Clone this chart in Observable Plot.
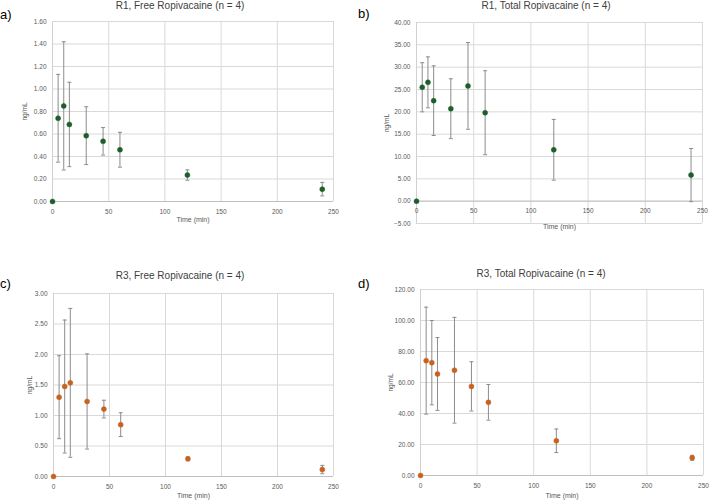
<!DOCTYPE html>
<html>
<head>
<meta charset="utf-8">
<script src="https://cdn.jsdelivr.net/npm/d3@7"></script>
<script src="https://cdn.jsdelivr.net/npm/@observablehq/plot@0.6"></script>
<style>
  body { margin: 0; background: #fff; font-family: "Liberation Sans", Arial, sans-serif; }
  #page { position: relative; width: 709px; height: 502px; overflow: hidden; background: #fff; }
  .panel { position: absolute; }
  .title { position: absolute; font-size: 10px; color: #404040; white-space: nowrap; transform: translateX(-50%); }
  .tag { position: absolute; font-size: 13px; color: #000; }
</style>
</head>
<body>
<div id="page"></div>
<script>
// ---- data ----
const times = [0, 5, 10, 15, 30, 45, 60, 120, 240];

const r1FreeMean = [0, 0.74, 0.85, 0.685, 0.585, 0.535, 0.46, 0.235, 0.11];
const r1FreeSD   = [0, 0.39, 0.57, 0.375, 0.257, 0.122, 0.155, 0.046, 0.06];

const r1TotalMean = [0, 25.5, 26.6, 22.5, 20.7, 25.8, 19.8, 11.5, 5.85];
const r1TotalSD   = [0, 5.5, 5.7, 7.8, 6.7, 9.7, 9.4, 6.8, 5.95];

const r3FreeMean = [0, 1.30, 1.475, 1.535, 1.23, 1.105, 0.85, 0.289, 0.114];
const r3FreeSD   = [0, 0.68, 1.09, 1.22, 0.78, 0.145, 0.195, 0.03, 0.068];

const r3TotalMean = [0, 74.1, 72.8, 65.5, 67.9, 57.5, 47.2, 22.4, 11.4];
const r3TotalSD   = [0, 34.5, 27.2, 23.5, 34.1, 15.9, 11.5, 7.6, 1.6];

const xTicks = [0, 50, 100, 150, 200, 250];
const yTicksA = [0, 0.2, 0.4, 0.6, 0.8, 1.0, 1.2, 1.4, 1.6];
const yTicksB = [-5, 0, 5, 10, 15, 20, 25, 30, 35, 40];
const yTicksC = [0, 0.5, 1.0, 1.5, 2.0, 2.5, 3.0];
const yTicksD = [0, 20, 40, 60, 80, 100, 120];

const titles = [
  "R1, Free Ropivacaine (n = 4)",
  "R1, Total Ropivacaine (n = 4)",
  "R3, Free Ropivacaine (n = 4)",
  "R3, Total Ropivacaine (n = 4)"
];
const tags = ["a)", "b)", "c)", "d)"];

const green = "#1e5e2b";
const orange = "#c7631f";

const capSymbol = {
  draw(ctx) { ctx.moveTo(-2, 0); ctx.lineTo(2, 0); }
};

function panel(mean, sd, yTicks, color, box) {
  const data = times.map((t, i) => ({t, m: mean[i], lo: mean[i] - sd[i], hi: mean[i] + sd[i], sd: sd[i]}));
  const bars = data.filter(d => d.sd > 0);
  return Plot.plot({
    width: box.W, height: box.H,
    marginLeft: box.mL, marginRight: box.mR, marginTop: box.mT, marginBottom: box.mB,
    style: {fontFamily: "Liberation Sans, Arial, sans-serif", background: "transparent", overflow: "visible"},
    x: {domain: [0, 250], axis: null},
    y: {domain: [yTicks[0], yTicks[yTicks.length - 1]]},
    marks: [
      Plot.gridY(yTicks, {stroke: "#d9d9d9", strokeOpacity: 1}),
      Plot.gridX(xTicks, {stroke: "#d9d9d9", strokeOpacity: 1}),
      Plot.ruleY([0], {stroke: "#bfbfbf"}),
      Plot.ruleX([0], {stroke: "#d0d0d0"}),
      Plot.axisY(yTicks, {tickSize: 0, tickPadding: 6, tickFormat: d3.format(".2f"), fontSize: 6.5, color: "#595959",
        label: "ng/mL", labelAnchor: "center", labelArrow: "none", labelOffset: box.lblOff}),
      Plot.text(xTicks, {x: d => d, y: 0, dy: 10, text: d => String(d), fontSize: 6.5, fill: "#595959"}),
      Plot.text(["Time (min)"], {frameAnchor: "bottom", dy: box.tDy, fontSize: 7, fill: "#595959"}),
      Plot.ruleX(bars, {x: "t", y1: "lo", y2: "hi", stroke: "#8c8c8c", strokeWidth: 1}),
      Plot.dot(bars, {x: "t", y: "hi", symbol: capSymbol, stroke: "#8c8c8c", fill: "none", strokeWidth: 1}),
      Plot.dot(bars, {x: "t", y: "lo", symbol: capSymbol, stroke: "#8c8c8c", fill: "none", strokeWidth: 1}),
      Plot.dot(data, {x: "t", y: "m", r: 2.5, fill: color, stroke: color, strokeWidth: 0.5})
    ]
  });
}

const boxes = [
  {L: 0,   T: 0,   W: 354, H: 240, mL: 52, mR: 21, mT: 21, mB: 39, lblOff: 30, tDy: 20, tx: 180, ty: 0,   gx: 0,   gy: 7},
  {L: 354, T: 0,   W: 355, H: 240, mL: 62, mR: 7,  mT: 22, mB: 17, lblOff: 32, tDy: 5,  tx: 546, ty: 0,   gx: 358, gy: 6},
  {L: 0,   T: 250, W: 354, H: 252, mL: 53, mR: 21, mT: 43, mB: 26, lblOff: 26, tDy: 21, tx: 180, ty: 270, gx: 0,   gy: 276},
  {L: 354, T: 250, W: 355, H: 252, mL: 66, mR: 6,  mT: 39, mB: 27, lblOff: 32, tDy: 22, tx: 541, ty: 268, gx: 358, gy: 276}
];
const series = [
  [r1FreeMean, r1FreeSD, yTicksA, green],
  [r1TotalMean, r1TotalSD, yTicksB, green],
  [r3FreeMean, r3FreeSD, yTicksC, orange],
  [r3TotalMean, r3TotalSD, yTicksD, orange]
];

const page = document.getElementById("page");
series.forEach(([m, s, yt, c], i) => {
  const b = boxes[i];
  const wrap = document.createElement("div");
  wrap.className = "panel";
  wrap.style.left = b.L + "px";
  wrap.style.top = b.T + "px";
  wrap.appendChild(panel(m, s, yt, c, b));
  page.appendChild(wrap);

  const t = document.createElement("div");
  t.className = "title";
  t.style.left = b.tx + "px";
  t.style.top = b.ty + "px";
  t.textContent = titles[i];
  page.appendChild(t);

  const g = document.createElement("div");
  g.className = "tag";
  g.style.left = b.gx + "px";
  g.style.top = b.gy + "px";
  g.textContent = tags[i];
  page.appendChild(g);
});
</script>
</body>
</html>
